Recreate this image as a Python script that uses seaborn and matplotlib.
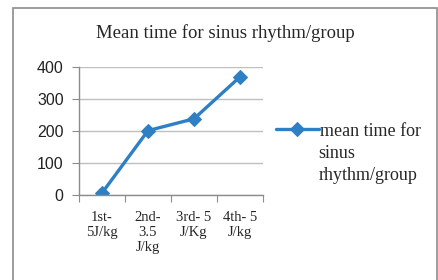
import seaborn as sns
import matplotlib.pyplot as plt
from matplotlib.patches import Rectangle

# data
groups = ["1st-\n5J/kg", "2nd-\n3.5\nJ/kg", "3rd- 5\nJ/Kg", "4th- 5\nJ/kg"]
mean_time = [5, 200, 237, 368]
series_name = ["mean time for", "sinus", "rhythm/group"]

line_color = "#2F7FC4"
grid_color = "#BFBFBF"

sns.set_style("white")
fig = plt.figure(figsize=(4.39, 2.80), dpi=100)
ax = fig.add_axes([0.180, 0.305, 0.419, 0.457])

sns.lineplot(x=groups, y=mean_time, ax=ax, color=line_color, linewidth=2.4,
             marker="D", markersize=7.5, markeredgecolor=line_color,
             label=series_name[0], sort=False)

ax.set_xlim(-0.5, 3.5)
ax.set_ylim(0, 400)
ax.set_yticks([0, 100, 200, 300, 400])
ax.yaxis.grid(True, color=grid_color, linewidth=1)
ax.set_axisbelow(True)
for s in ["top", "right"]:
    ax.spines[s].set_visible(False)
for s in ["left", "bottom"]:
    ax.spines[s].set_color("#8C8C8C")
    ax.spines[s].set_linewidth(1)

# tick marks at the category boundaries, labels at the centres
ax.set_xticks([-0.5, 0.5, 1.5, 2.5, 3.5])
ax.set_xticklabels([])
ax.set_xticks(range(len(groups)), minor=True)
ax.set_xticklabels(groups, minor=True, fontfamily="Liberation Serif",
                   fontsize=10.5, linespacing=1.2, va="top")
ax.tick_params(axis="x", which="major", direction="out", length=5,
               color="#8C8C8C", bottom=True)
ax.tick_params(axis="x", which="minor", length=0, pad=12)
ax.tick_params(axis="y", direction="out", length=5, color="#8C8C8C",
               left=True, labelsize=11.5, pad=6)
for lab in ax.get_yticklabels():
    lab.set_fontfamily("Liberation Sans")
    lab.set_color("#222222")
ax.set_xlabel("")
ax.set_ylabel("")

fig.text(0.514, 0.882, "Mean time for sinus rhythm/group",
         fontfamily="Liberation Serif", fontsize=13.5, ha="center", va="center")

# legend: first line next to the handle, the rest wrapped below it
leg = ax.legend(loc="center left", bbox_to_anchor=(0.628, 0.532),
                bbox_transform=fig.transFigure, frameon=False,
                handlelength=2.4, handletextpad=0.05, borderaxespad=0,
                borderpad=0, prop={"family": "Liberation Serif", "size": 13})
fig.text(0.725, 0.482, "\n".join(series_name[1:]), fontfamily="Liberation Serif",
         fontsize=13, ha="left", va="top", linespacing=1.42)

# outer chart border
fig.patches.append(Rectangle((0.030, -0.05), 0.965, 1.02, transform=fig.transFigure,
                             fill=False, edgecolor="#8C8C8C", linewidth=1.2))

fig.savefig("out.png", dpi=100)
